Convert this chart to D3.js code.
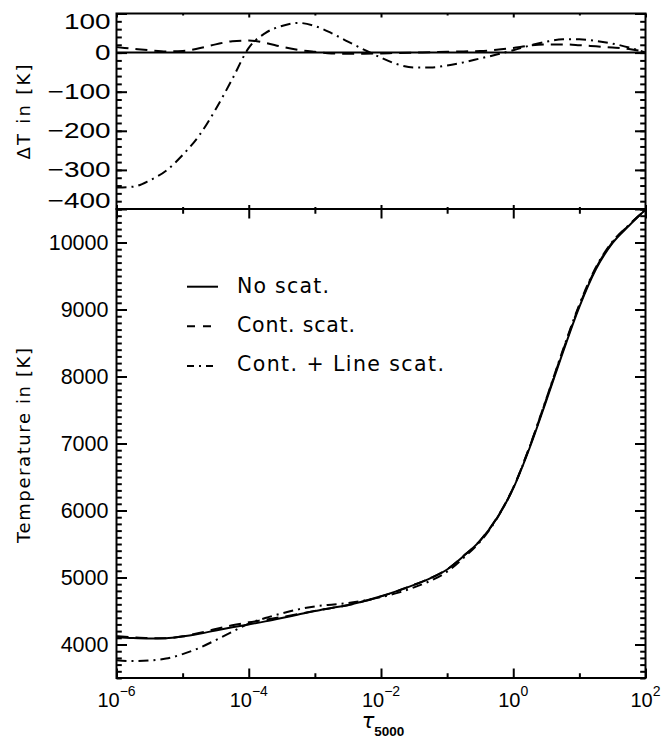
<!DOCTYPE html>
<html>
<head>
<meta charset="utf-8">
<script src="https://cdn.jsdelivr.net/npm/d3@7"></script>
<style>
  html, body { margin: 0; padding: 0; background: #fff; }
  svg { display: block; }
</style>
</head>
<body>
<svg id="chart" width="664" height="740"></svg>
<script>
// ---- data -------------------------------------------------------------
// optical depth grid, log10(tau_5000)
const logTau = [-6.00, -5.75, -5.50, -5.25, -5.00, -4.75, -4.50, -4.25, -4.00, -3.75, -3.50,
                -3.25, -3.00, -2.75, -2.50, -2.25, -2.00, -1.75, -1.50, -1.25, -1.00, -0.75,
                -0.50, -0.25, 0.00, 0.25, 0.50, 0.75, 1.00, 1.25, 1.50, 1.75, 2.00];

// temperature stratification [K]
const tempNoScat   = [4110, 4096, 4089, 4092, 4118, 4160, 4210, 4257, 4300, 4345, 4395,
                      4448, 4500, 4545, 4590, 4650, 4720, 4800, 4890, 4990, 5120, 5320,
                      5550, 5880, 6330, 6940, 7640, 8360, 9040, 9600, 9990, 10250, 10490];
const tempContScat = [4124, 4106, 4095, 4095, 4122, 4171, 4231, 4286, 4331, 4370, 4410,
                      4455, 4502, 4543, 4587, 4647, 4718, 4799, 4890, 4991, 5122, 5323,
                      5554, 5887, 6342, 6958, 7661, 8381, 9059, 9616, 10003, 10259, 10492];
const tempLineScat = [3765, 3753, 3762, 3790, 3856, 3948, 4065, 4189, 4312, 4395, 4463,
                      4524, 4568, 4595, 4618, 4657, 4707, 4770, 4852, 4952, 5087, 5295,
                      5535, 5875, 6336, 6958, 7668, 8394, 9074, 9630, 10013, 10263, 10490];

// temperature difference relative to the no-scattering case [K]
const dTContScat = [14, 10, 6, 3, 4, 11, 21, 29, 31, 25, 15,
                    7, 2, -2, -3, -3, -2, -1, 0, 1, 2, 3,
                    4, 7, 12, 18, 21, 21, 19, 16, 13, 9, 2];
const dTLineScat = [-345, -343, -327, -302, -262, -212, -145, -68, 12, 50, 68,
                    76, 68, 50, 28, 7, -13, -30, -38, -38, -33, -25,
                    -15, -5, 6, 18, 28, 34, 34, 30, 23, 13, 0];

const seriesNames = ["No scat.", "Cont. scat.", "Cont. + Line scat."];

// axis ticks
const xMajorExp = [-6, -4, -2, 0, 2];
const xMinorExp = [-5, -3, -1, 1];
const tempTicks = [4000, 5000, 6000, 7000, 8000, 9000, 10000];
const dTTicks = [100, 0, -100, -200, -300, -400];

// ---- layout -----------------------------------------------------------
const left = 116.5, right = 645.5;
const topY = 13.5, midY = 209, botY = 678;
const FONT_NUM = "'Liberation Sans', Arial, Helvetica, sans-serif";
const FONT_TXT = "'DejaVu Sans', 'Liberation Sans', sans-serif";
const dashStyles = [null, "12,7", "10,5,2,5"];
const legendDash = [null, "8,8", "7,5,2,5"];

const svg = d3.select("#chart");

const x = d3.scaleLog().domain([1e-6, 1e2]).range([left, right]);
const yT = d3.scaleLinear().domain([3500, 10500]).range([botY, midY]);
const yD = d3.scaleLinear().domain([-400, 100]).range([midY, topY]);

const defs = svg.append("defs");
defs.append("clipPath").attr("id", "clipTop")
  .append("rect").attr("x", left).attr("y", topY).attr("width", right - left).attr("height", midY - topY);
defs.append("clipPath").attr("id", "clipBot")
  .append("rect").attr("x", left).attr("y", midY).attr("width", right - left).attr("height", botY - midY);

// ---- helpers ----------------------------------------------------------
function styleAxis(g) {
  g.select(".domain").remove();
  g.selectAll(".tick line").attr("stroke", "#000").attr("stroke-width", 2);
  g.attr("font-family", FONT_NUM).attr("font-size", 21.5);
  g.selectAll("text").attr("fill", "#000");
}

function xTicks(yPos, size, isTop) {
  const make = isTop ? d3.axisTop : d3.axisBottom;
  svg.append("g").attr("transform", `translate(0,${yPos})`)
    .call(make(x).tickValues(xMajorExp.map(e => Math.pow(10, e))).tickSize(-size).tickFormat(""))
    .call(styleAxis);
  svg.append("g").attr("transform", `translate(0,${yPos})`)
    .call(make(x).tickValues(xMinorExp.map(e => Math.pow(10, e))).tickSize(-size / 2).tickFormat(""))
    .call(styleAxis);
}

function yTicks(scale, major, minor, fmt) {
  const gl = svg.append("g").attr("transform", `translate(${left},0)`)
    .call(d3.axisLeft(scale).tickValues(major).tickSize(-10.5).tickPadding(8).tickFormat(fmt))
    .call(styleAxis);
  svg.append("g").attr("transform", `translate(${left},0)`)
    .call(d3.axisLeft(scale).tickValues(minor).tickSize(-5.3).tickFormat(""))
    .call(styleAxis);
  svg.append("g").attr("transform", `translate(${right},0)`)
    .call(d3.axisRight(scale).tickValues(major).tickSize(-10.5).tickFormat(""))
    .call(styleAxis);
  svg.append("g").attr("transform", `translate(${right},0)`)
    .call(d3.axisRight(scale).tickValues(minor).tickSize(-5.3).tickFormat(""))
    .call(styleAxis);
  return gl;
}

const minusFmt = d => (d < 0 ? "\u2212" + Math.abs(d) : String(d));

// ---- top panel: temperature difference --------------------------------
const topG = svg.append("g").attr("clip-path", "url(#clipTop)");
topG.append("line")
  .attr("x1", left).attr("x2", right)
  .attr("y1", yD(0)).attr("y2", yD(0))
  .attr("stroke", "#000").attr("stroke-width", 2);

const lineD = d3.line()
  .x((d, i) => x(Math.pow(10, logTau[i])))
  .y(d => yD(d))
  .curve(d3.curveMonotoneX);

[dTContScat, dTLineScat].forEach((arr, k) => {
  topG.append("path").datum(arr)
    .attr("d", lineD)
    .attr("fill", "none").attr("stroke", "#000").attr("stroke-width", 2)
    .attr("stroke-dasharray", dashStyles[k + 1]);
});

const gTopLeft = yTicks(yD, dTTicks, d3.range(-400, 101, 20), minusFmt);
// widen labels of the difference panel, keep end labels inside the frame
gTopLeft.selectAll(".tick").each(function (d) {
  const t = d3.select(this).select("text");
  const nudge = d === 100 ? 8.5 : (d === -400 ? -8.5 : 0);
  t.attr("x", 0).attr("transform", `translate(-6,${nudge}) scale(1.3,1)`);
});
xTicks(topY, 4, true);
xTicks(midY, 4, false);

// ---- bottom panel: temperature ----------------------------------------
const botG = svg.append("g").attr("clip-path", "url(#clipBot)");
const lineT = d3.line()
  .x((d, i) => x(Math.pow(10, logTau[i])))
  .y(d => yT(d))
  .curve(d3.curveMonotoneX);

[tempNoScat, tempContScat, tempLineScat].forEach((arr, k) => {
  botG.append("path").datum(arr)
    .attr("d", lineT)
    .attr("fill", "none").attr("stroke", "#000").attr("stroke-width", 2)
    .attr("stroke-dasharray", dashStyles[k]);
});

yTicks(yT, tempTicks, d3.range(3500, 10501, 100), d3.format("d"));
xTicks(midY, 9.5, true);
xTicks(botY, 9.5, false);

// frames
svg.append("rect").attr("x", left).attr("y", topY).attr("width", right - left).attr("height", midY - topY)
  .attr("fill", "none").attr("stroke", "#000").attr("stroke-width", 2);
svg.append("rect").attr("x", left).attr("y", midY).attr("width", right - left).attr("height", botY - midY)
  .attr("fill", "none").attr("stroke", "#000").attr("stroke-width", 2);

// ---- x tick labels (powers of ten) ------------------------------------
const xl = svg.append("g").attr("font-family", FONT_NUM).attr("fill", "#000");
xMajorExp.forEach(e => {
  const t = xl.append("text")
    .attr("x", x(Math.pow(10, e)))
    .attr("y", 707)
    .attr("text-anchor", "middle");
  t.append("tspan").attr("font-size", 20).text("10");
  t.append("tspan").attr("font-size", 14).attr("dy", -11)
    .text(e < 0 ? "\u2212" + Math.abs(e) : String(e));
});

// ---- axis titles ------------------------------------------------------
const xt = svg.append("text")
  .attr("x", 383).attr("y", 728)
  .attr("text-anchor", "middle").attr("fill", "#000");
xt.append("tspan").attr("font-family", FONT_TXT).attr("font-style", "italic").attr("font-size", 21).text("\u03c4");
xt.append("tspan").attr("font-family", FONT_NUM).attr("font-weight", "bold").attr("font-size", 13.5)
  .attr("dy", 8).text("5000");

svg.append("text")
  .attr("transform", "translate(23,112) rotate(-90)")
  .attr("text-anchor", "middle").attr("dominant-baseline", "central")
  .attr("font-family", FONT_TXT).attr("font-size", 18).attr("fill", "#000")
  .attr("textLength", 95).attr("lengthAdjust", "spacing")
  .text("\u0394T in [K]");

svg.append("text")
  .attr("transform", "translate(23,445.5) rotate(-90)")
  .attr("text-anchor", "middle").attr("dominant-baseline", "central")
  .attr("font-family", FONT_TXT).attr("font-size", 18).attr("fill", "#000")
  .attr("textLength", 195).attr("lengthAdjust", "spacing")
  .text("Temperature in [K]");

// ---- legend -----------------------------------------------------------
const legendLen = [92, 118, 207];
const lg = svg.append("g");
seriesNames.forEach((name, i) => {
  const yLine = 286.7 + 39.6 * i;
  lg.append("line")
    .attr("x1", 187).attr("x2", i === 0 ? 218 : 213)
    .attr("y1", yLine).attr("y2", yLine)
    .attr("stroke", "#000").attr("stroke-width", 2)
    .attr("stroke-dasharray", legendDash[i]);
  lg.append("text")
    .attr("x", 237).attr("y", 293.3 + 39.0 * i)
    .attr("font-family", FONT_TXT).attr("font-size", 20.5).attr("fill", "#000")
    .attr("textLength", legendLen[i]).attr("lengthAdjust", "spacing")
    .text(name);
});
</script>
</body>
</html>
